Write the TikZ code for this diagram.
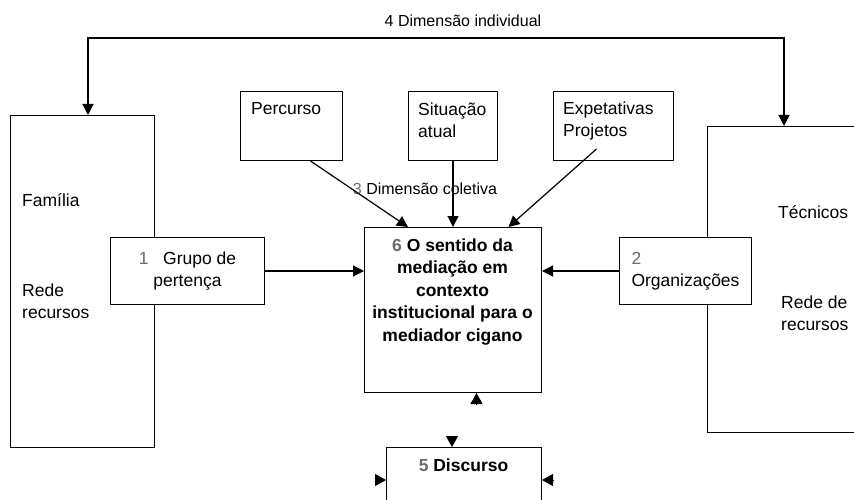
\documentclass[tikz,border=0pt]{standalone}
\usepackage{fontspec}
\setmainfont{Liberation Sans}
\usetikzlibrary{arrows.meta,calc}
\definecolor{numgray}{gray}{0.42}
\newcommand{\nmark}[1]{\textcolor{numgray}{#1}}
\begin{document}
\begin{tikzpicture}[
		x=1pt, y=-1pt,
		box/.style={rectangle, draw, line width=1pt, fill=white, inner sep=0pt, anchor=north west},
		txt/.style={inner sep=0pt, font=\fontsize{17.5}{22}\selectfont},
		boldtxt/.style={inner sep=0pt, font=\fontsize{17.5}{22.5}\selectfont\bfseries},
		dim/.style={inner sep=0pt, font=\fontsize{16}{19}\selectfont},
		arrow/.style={-{Triangle[length=11pt,width=11pt]}, line width=1.2pt},
		dblarrow/.style={{Triangle[length=11pt,width=11pt]}-{Triangle[length=11pt,width=11pt]}, line width=1.2pt},
		tip/.style={-{Triangle[length=11pt,width=12pt]}, line width=1pt}
	]
	\path[use as bounding box] (0,0) rectangle (854,500);
	\clip (0,0) rectangle (854,500);

	% outer boxes
	\node[box, minimum width=144pt, minimum height=332pt] (familia) at (10,115) {};
	\node[box, minimum width=180pt, minimum height=306pt] (tecnicos) at (707,126) {};

	% top boxes
	\node[box, minimum width=102pt, minimum height=69pt] (percurso) at (240,91) {};
	\node[box, minimum width=89pt, minimum height=69pt] (situacao) at (408,91) {};
	\node[box, minimum width=120pt, minimum height=69pt] (expet) at (553,91) {};

	% middle and bottom boxes
	\node[box, minimum width=177pt, minimum height=165pt] (sentido) at (364,227) {};
	\node[box, txt, align=center, minimum width=154pt, minimum height=67pt] (grupo) at (110,237) {\nmark{1}\ \ \ Grupo de\\pertença};
	\node[box, txt, align=left, minimum width=132pt, minimum height=67pt] (org) at (619,237) {\nmark{2}\\Organizações};
	\node[box, minimum width=155pt, minimum height=80pt] (discurso) at (386,447) {};

	% texts in the boxes
	\node[txt, anchor=base west] (t-fam) at (22,206) {Família};
	\node[txt, anchor=north west, align=left] (t-rede) at (22,283.6) {Rede\\recursos};
	\node[txt, anchor=base west] (t-tec) at (778,218) {Técnicos};
	\node[txt, anchor=north west, align=left] (t-rede2) at (781,295.6) {Rede de\\recursos};
	\node[txt, anchor=base west] (t-perc) at (251,115) {Percurso};
	\node[txt, anchor=north west, align=left] (t-sit) at (418,102.6) {Situação\\atual};
	\node[txt, anchor=north west, align=left] (t-exp) at (563,101.6) {Expetativas\\Projetos};
	\node[boldtxt, anchor=north, align=center] (t-sent) at (452.5,238.6) {\nmark{6} O sentido da\\mediação em\\contexto\\institucional para o\\mediador cigano};
	\node[boldtxt, anchor=base] (t-disc) at (463.5,471) {\nmark{5} Discurso};

	% 4 Dimensão individual
	\node[dim] (dimind) at (463,21) {4 Dimensão individual};
	\draw[dblarrow] ([shift={(78,0)}]familia.north west) -- ++(0,-77) -| ([shift={(77,0)}]tecnicos.north west);

	% 3 Dimensão coletiva
	\node[dim] (dimcol) at (425,189) {\nmark{3} Dimensão coletiva};
	\draw[arrow] ([shift={(19,0)}]percurso.south) -- ([shift={(44,0)}]sentido.north west);
	\draw[arrow] (situacao.south) -- (situacao.south |- sentido.north);
	\draw[arrow] ([shift={(-17,-12)}]expet.south) -- ([shift={(55.5,0)}]sentido.north);

	\draw[arrow] (grupo.east) -- (grupo.east -| sentido.west);
	\draw[arrow] (org.west) -- (org.west -| sentido.east);

	% tips round Discurso
	\draw[tip] ([shift={(23.5,12)}]sentido.south) -- ([shift={(23.5,0)}]sentido.south);
	\draw[tip] ([shift={(-12,-11)}]discurso.north) -- ([shift={(-12,0)}]discurso.north);
	\draw[tip] ([shift={(-11,33)}]discurso.north west) -- ([shift={(0,33)}]discurso.north west);
	\draw[tip] ([shift={(11,33)}]discurso.north east) -- ([shift={(0,33)}]discurso.north east);
\end{tikzpicture}
\end{document}
